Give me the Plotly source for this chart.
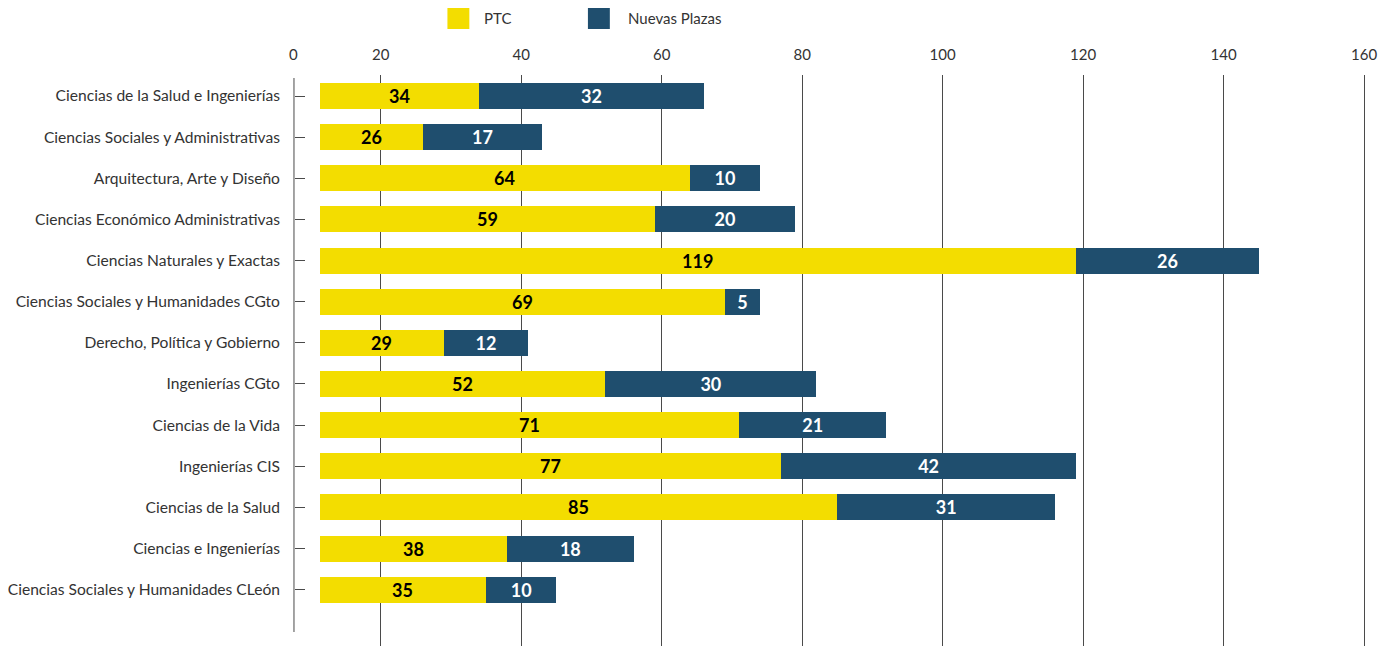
import plotly.graph_objects as go

# ---------------- data ----------------
categories = [
    "Ciencias de la Salud e Ingenierías",
    "Ciencias Sociales y Administrativas",
    "Arquitectura, Arte y Diseño",
    "Ciencias Económico Administrativas",
    "Ciencias Naturales y Exactas",
    "Ciencias Sociales y Humanidades CGto",
    "Derecho, Política y Gobierno",
    "Ingenierías CGto",
    "Ciencias de la Vida",
    "Ingenierías CIS",
    "Ciencias de la Salud",
    "Ciencias e Ingenierías",
    "Ciencias Sociales y Humanidades CLeón",
]
ptc = [34, 26, 64, 59, 119, 69, 29, 52, 71, 77, 85, 38, 35]
nuevas_plazas = [32, 17, 10, 20, 26, 5, 12, 30, 21, 42, 31, 18, 10]
x_tick_values = [20, 40, 60, 80, 100, 120, 140, 160]
x_tick_labels = ["20", "40", "60", "80", "100", "120", "140", "160"]
series_names = ["PTC", "Nuevas Plazas"]

# ---------------- style / layout ----------------
OFF = 8                      # page body margin
W, H = 1394 - OFF, 646 - OFF
M_T, M_B = 75 - OFF, 0
PLOT_H = H - M_T - M_B
YELLOW = "#F3DD00"
BLUE = "#1F4E6E"
TEXT = "#333333"
LINE = "#4a4a4a"
FONT = "Lato"

PX_PER_UNIT = 7.05
ZERO_PX = 236.0


def px_to_val(px):
    return (px - ZERO_PX) / PX_PER_UNIT


def px_x(px):
    return (px - OFF) / W


def px_y(py):
    return (H - M_B - (py - OFF)) / PLOT_H


x_min = px_to_val(316)
x_max = px_to_val(1380)

fig = go.Figure()
fig.add_trace(go.Bar(
    y=categories, x=ptc, orientation="h", name=series_names[0],
    marker=dict(color=YELLOW, line=dict(width=0)), showlegend=False,
))
fig.add_trace(go.Bar(
    y=categories, x=nuevas_plazas, orientation="h", name=series_names[1],
    marker=dict(color=BLUE, line=dict(width=0)), showlegend=False,
    text=[str(v) for v in nuevas_plazas], textposition="inside",
    insidetextanchor="middle", textangle=0, constraintext="none",
    insidetextfont=dict(family=FONT, size=18, color="white", weight="bold"),
))

annotations = []
# labels for the yellow segments, centred in the visible part of each bar
for cat, v in zip(categories, ptc):
    annotations.append(dict(
        x=(x_min + v) / 2, y=cat, xref="x", yref="y", text=str(v),
        showarrow=False, xanchor="center", yanchor="middle",
        font=dict(family=FONT, size=18, color="black", weight="bold"),
    ))
# "0" label at the left axis line
annotations.append(dict(
    x=px_x(290), y=px_y(53.5), xref="paper", yref="paper", text="0",
    showarrow=False, xanchor="center", yanchor="middle",
    font=dict(family=FONT, size=15, color=TEXT),
))
# legend texts
annotations.append(dict(
    x=px_x(479), y=px_y(18), xref="paper", yref="paper", text=series_names[0],
    showarrow=False, xanchor="left", yanchor="middle",
    font=dict(family=FONT, size=15, color=TEXT),
))
annotations.append(dict(
    x=px_x(623), y=px_y(18), xref="paper", yref="paper", text=series_names[1],
    showarrow=False, xanchor="left", yanchor="middle",
    font=dict(family=FONT, size=15, color=TEXT),
))

shapes = [
    # left axis line
    dict(type="line", xref="paper", yref="paper",
         x0=px_x(290), x1=px_x(290), y0=px_y(632), y1=px_y(78),
         line=dict(color=LINE, width=1)),
    # legend swatches
    dict(type="rect", xref="paper", yref="paper",
         x0=px_x(444), x1=px_x(466), y0=px_y(29), y1=px_y(7),
         fillcolor=YELLOW, line=dict(width=0)),
    dict(type="rect", xref="paper", yref="paper",
         x0=px_x(585), x1=px_x(607), y0=px_y(29), y1=px_y(7),
         fillcolor=BLUE, line=dict(width=0)),
]

row_px = 41.14
first_px = 96.0
y_top = (75 - first_px) / row_px
y_bot = (646 - first_px) / row_px

fig.update_layout(
    width=W, height=H,
    margin=dict(l=0, r=0, t=M_T, b=M_B, pad=0),
    paper_bgcolor="white", plot_bgcolor="white",
    barmode="stack", bargap=0.368,
    font=dict(family=FONT, color=TEXT),
    xaxis=dict(
        domain=[px_x(316), px_x(1380)], range=[x_min, x_max],
        side="top", tickvals=x_tick_values, ticktext=x_tick_labels,
        showgrid=True, gridcolor=LINE, gridwidth=1, zeroline=False,
        showline=False, ticks="", ticklabelstandoff=11,
        tickfont=dict(family=FONT, size=15, color=TEXT), fixedrange=True,
    ),
    yaxis=dict(
        type="category", categoryorder="array", categoryarray=categories,
        range=[y_bot, y_top], anchor="free", position=px_x(290),
        showgrid=False, zeroline=False, showline=False,
        ticks="inside", ticklen=10, tickcolor=LINE, tickwidth=1,
        ticklabelstandoff=14,
        tickfont=dict(family=FONT, size=15.6, color=TEXT), fixedrange=True,
    ),
    annotations=annotations, shapes=shapes,
    showlegend=False,
)

fig.write_html("out.html")
